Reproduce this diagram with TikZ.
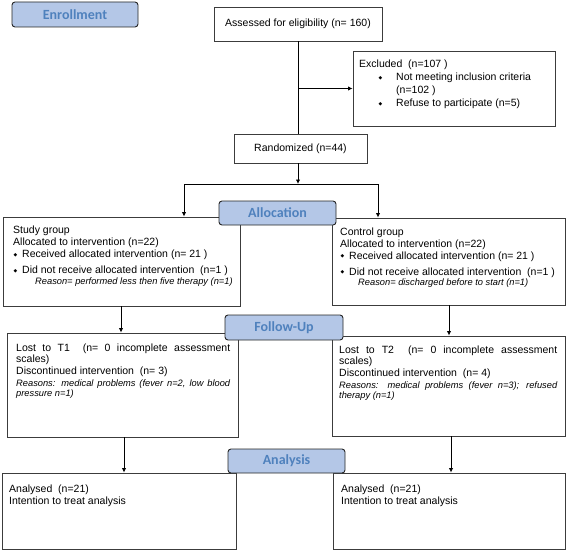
\documentclass[tikz,border=0pt]{standalone}
\usepackage{fontspec}
\setmainfont{Liberation Sans}
\newfontfamily\hdfont{Carlito}
\newfontfamily\symfont{DejaVu Sans}
\usetikzlibrary{arrows.meta,fit}
\definecolor{hdfill}{RGB}{180,199,231}
\definecolor{hdtext}{RGB}{79,129,189}
\definecolor{boxline}{RGB}{60,60,60}
\newcommand\dia{\raisebox{1.4pt}{\symfont\fontsize{4.8}{5}\selectfont ◆}}
\newcommand\bul[1]{\makebox[#1][l]{\dia}}
\begin{document}
\begin{tikzpicture}[x=1pt,y=-1pt,
  box/.style={draw=boxline, line width=0.9pt, inner sep=0pt, fill=white},
  hd/.style={draw=black!85, line width=0.9pt, fill=hdfill, rounded corners=3pt, inner sep=0pt},
  hdlabel/.style={inner sep=0pt, font=\hdfont\bfseries\fontsize{14}{16}\selectfont, text=hdtext},
  ctx/.style={inner sep=0pt, font=\fontsize{10.5}{12}\selectfont},
  txt/.style={anchor=base west, inner sep=0pt, font=\fontsize{10.5}{12}\selectfont},
  itx/.style={anchor=base west, inner sep=0pt, font=\fontsize{9.3}{11}\selectfont\itshape},
  conn/.style={draw=black, line width=0.9pt},
  arr/.style={conn, -{Latex[length=4.5pt,width=4.5pt]}}]
\useasboundingbox (0,0) rectangle (567,551);

% boxes
\node[box, fit={(214,7) (382,41)}] (assess) {};
\node[ctx] (assesst) at (assess.center) {Assessed for eligibility (n= 160)};
\node[box, fit={(353,51) (555,126)}] (excl) {};
\node[box, fit={(234,134) (367,163)}] (rand) {};
\node[ctx] (randt) at (rand.center) {Randomized (n=44)};
\node[box, fit={(3,217) (240,306)}] (study) {};
\node[box, fit={(332,218) (565,305)}] (control) {};
\node[box, fit={(7,333) (238,437)}] (t1) {};
\node[box, fit={(332,336) (565,436)}] (t2) {};
\node[box, fit={(2,473) (236,549)}] (anl) {};
\node[box, fit={(333,473) (565,549)}] (anr) {};

% excluded text
\node[txt] (ex1) at (359,67.5) {Excluded~~(n=107 )};
\node[txt] (ex2) at (378.3,80.5) {\bul{17.7pt}Not meeting inclusion criteria};
\node[txt] (ex3) at (396,93.5) {(n=102 )};
\node[txt] (ex4) at (378.3,106.5) {\bul{17.7pt}Refuse to participate (n=5)};

% study text
\node[txt] (st1) at (13,233.7) {Study group};
\node[txt] (st2) at (13,245.7) {Allocated to intervention (n=22)};
\node[txt] (st3) at (13.3,257.7) {\bul{8.7pt}Received allocated intervention (n= 21 )};
\node[txt] (st4) at (13.3,273.7) {\bul{8.7pt}Did not receive allocated intervention~~(n=1 )};
\node[itx] (st5) at (35,284.5) {Reason= performed less then five therapy (n=1)};

% control text
\node[txt] (co1) at (340,235.5) {Control group};
\node[txt] (co2) at (340,247.2) {Allocated to intervention (n=22)};
\node[txt] (co3) at (340.3,259) {\bul{8.7pt}Received allocated intervention (n= 21 )};
\node[txt] (co4) at (340.3,275) {\bul{8.7pt}Did not receive allocated intervention~~(n=1 )};
\node[itx] (co5) at (358,285.8) {Reason= discharged before to start (n=1)};

% T1 text
\node[txt] (ta1) at (16,351.5) {\makebox[214pt][s]{Lost to T1\ \ (n= 0 incomplete assessment}};
\node[txt] (ta2) at (16,362.5) {scales)};
\node[txt] (ta3) at (16,374.5) {Discontinued intervention~~(n= 3)};
\node[itx] (ta4) at (16,386.5) {\makebox[214pt][s]{Reasons: medical problems (fever n=2, low blood}};
\node[itx] (ta5) at (16,396.5) {pressure n=1)};

% T2 text
\node[txt] (tb1) at (339,353.5) {\makebox[218pt][s]{Lost to T2\ \ (n= 0 incomplete assessment}};
\node[txt] (tb2) at (339,364.5) {scales)};
\node[txt] (tb3) at (339,376.5) {Discontinued intervention~~(n= 4)};
\node[itx] (tb4) at (339,388.5) {\makebox[218pt][s]{Reasons: medical problems (fever n=3); refused}};
\node[itx] (tb5) at (339,398.5) {therapy (n=1)};

% analysed text
\node[txt] (al1) at (9,492.5) {Analysed~~(n=21)};
\node[txt] (al2) at (9,504.5) {Intention to treat analysis};
\node[txt] (ar1) at (341,492.5) {Analysed~~(n=21)};
\node[txt] (ar2) at (341,504.5) {Intention to treat analysis};

% connectors
\coordinate (split) at (298,184);
\coordinate (splitL) at (184,184);
\coordinate (splitR) at (378,184);
\coordinate (c1) at (121,0);
\coordinate (c2) at (449,0);
\coordinate (c3) at (124,0);
\coordinate (c4) at (451,0);
\draw[conn] (assess.south) -- (assess.south |- rand.north);
\draw[arr] (assess.south |- excl.west) -- (excl.west);
\draw[arr] (split |- rand.south) -- (split);
\draw[conn] (splitL) -- (splitR);
\draw[arr] (splitL) -- (splitL |- study.north);
\draw[arr] (splitR) -- (splitR |- control.north);
\draw[arr] (c1 |- study.south) -- (c1 |- t1.north);
\draw[arr] (c2 |- control.south) -- (c2 |- t2.north);
\draw[arr] (c3 |- t1.south) -- (c3 |- anl.north);
\draw[arr] (c4 |- t2.south) -- (c4 |- anr.north);

% stage headers
\node[hd, fit={(12,2) (138,27)}] (enr) {};
\node[hdlabel] (enrt) at (enr.center) {Enrollment};
\node[hd, fit={(219,201) (336,225)}] (alloc) {};
\node[hdlabel] (alloct) at (alloc.center) {Allocation};
\node[hd, fit={(225,315) (343,340)}] (fol) {};
\node[hdlabel] (folt) at (fol.center) {Follow-Up};
\node[hd, fit={(228,449) (345,473)}] (ana) {};
\node[hdlabel] (anat) at (ana.center) {Analysis};
\end{tikzpicture}
\end{document}
